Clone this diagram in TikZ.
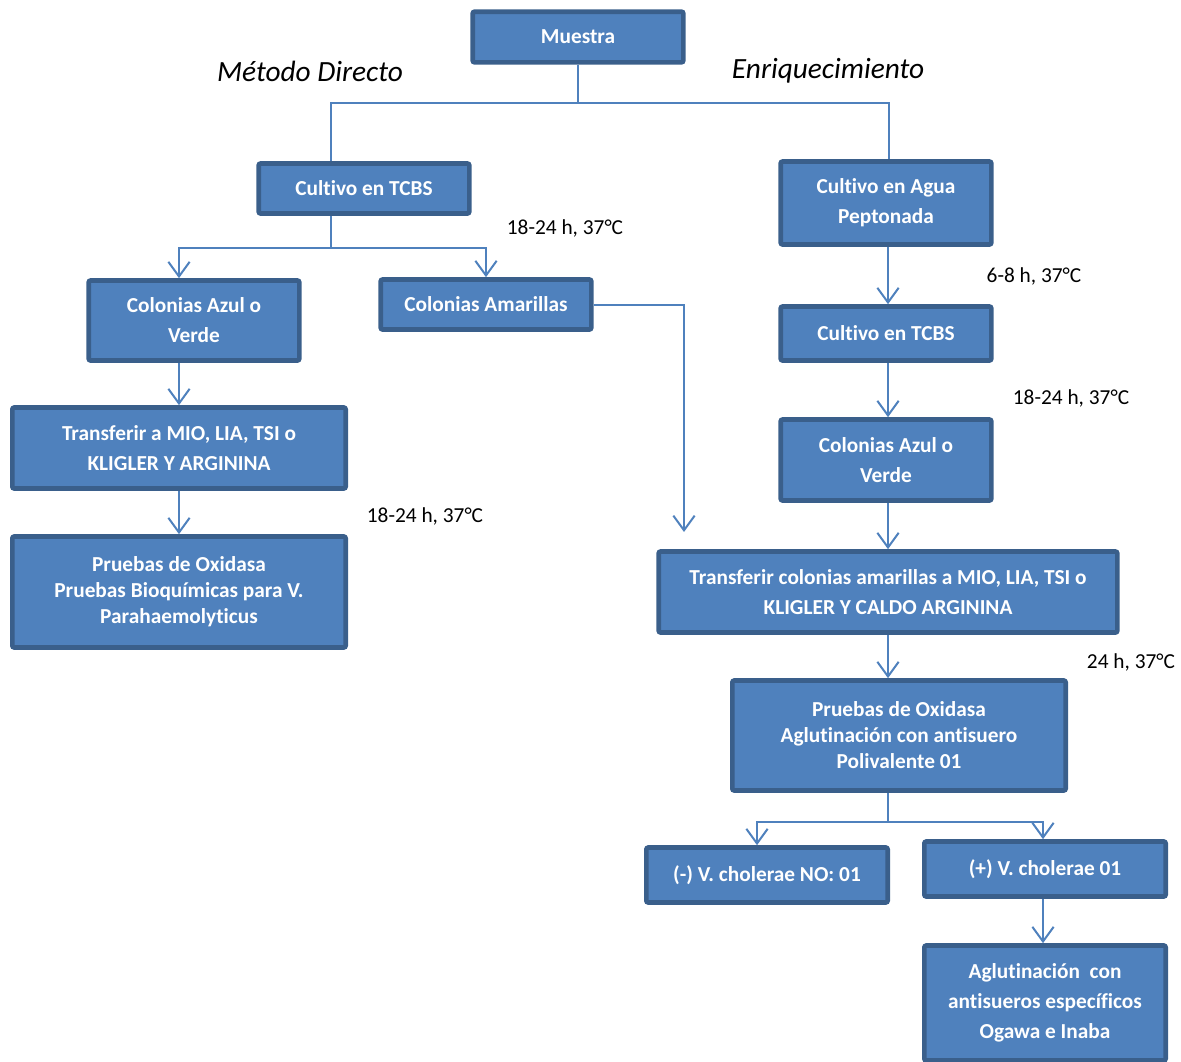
\documentclass[tikz,border=0pt]{standalone}
\usepackage{fontspec}
\setmainfont{Carlito}[Ligatures=NoCommon]
\usetikzlibrary{arrows.meta}
\definecolor{azul}{HTML}{4F81BD}
\definecolor{borde}{HTML}{3A5F8B}

\begin{document}
\begin{tikzpicture}[x=0.75pt,y=-0.75pt]
  \tikzstyle{caja}=[rectangle,draw=borde,fill=azul,line width=3.5pt,rounded corners=1.5pt,
    text=white,font=\bfseries\fontsize{16}{22.5}\selectfont,align=center,inner sep=0pt]
  \tikzstyle{linea}=[draw=azul,line width=1.5pt]
  \tikzstyle{flecha}=[linea,-{Straight Barb[length=11pt,width=16pt,line width=1.5pt]}]
  \tikzstyle{nota}=[font=\fontsize{16}{19}\selectfont]
  \tikzstyle{titulo}=[font=\itshape\fontsize{22}{25}\selectfont]
  \useasboundingbox (0,0) rectangle (1181,1061);
  % metodo directo
  \node(muestra)[caja,minimum width=158pt,minimum height=38pt] at (578,37) {Muestra};
  \node(tcbsA)[caja,minimum width=158pt,minimum height=37.5pt] at (364,188.5) {Cultivo en TCBS};
  \node(azulA)[caja,minimum width=158pt,minimum height=60pt] at (194,320.5) {Colonias Azul o\\Verde};
  \node(amarillas)[caja,minimum width=158pt,minimum height=37.5pt] at (486,304.5) {Colonias Amarillas};
  \node(transA)[caja,minimum width=250pt,minimum height=60.75pt] at (179,448) {Transferir a MIO, LIA, TSI o\\KLIGLER Y ARGININA};
  \node(pruebasA)[caja,minimum width=250pt,minimum height=83.25pt] at (179,592) {Pruebas de Oxidasa\\[-3pt]Pruebas Bioquímicas para V.\\[-3pt]Parahaemolyticus};
  % enriquecimiento
  \node(agua)[caja,minimum width=158pt,minimum height=62.25pt] at (886,203) {Cultivo en Agua\\Peptonada};
  \node(tcbsB)[caja,minimum width=158pt,minimum height=40.5pt] at (886,333.5) {Cultivo en TCBS};
  \node(azulB)[caja,minimum width=158pt,minimum height=60.75pt] at (886,460) {Colonias Azul o\\Verde};
  \node(transB)[caja,minimum width=344pt,minimum height=60.75pt] at (888,592) {Transferir colonias amarillas a MIO, LIA, TSI o\\KLIGLER Y CALDO ARGININA};
  \node(pruebasB)[caja,minimum width=250pt,minimum height=82.5pt] at (899,735.5) {Pruebas de Oxidasa\\[-3pt]Aglutinación con antisuero\\[-3pt]Polivalente 01};
  \node(neg)[caja,minimum width=181pt,minimum height=41.25pt] at (767,875) {(-) V. cholerae NO: 01};
  \node(pos)[caja,minimum width=181pt,minimum height=41.25pt] at (1045,869) {(+) V. cholerae 01};
  \node(aglut)[caja,minimum width=181pt,minimum height=86.25pt] at (1045,1003) {Aglutinación~ con\\antisueros específicos\\Ogawa e Inaba};
  % textos
  \node(metodo)[titulo] at (310,71) {Método Directo};
  \begin{scope}
    \clip (700,50) rectangle (960,82);
    \node(enriq)[titulo] at (828,71) {Enriquecimiento};
  \end{scope}
  \node(t1)[nota] at (565,228) {18-24 h, 37°C};
  \node(t2)[nota] at (1034,276) {6-8 h, 37°C};
  \node(t3)[nota] at (1071,398) {18-24 h, 37°C};
  \node(t4)[nota] at (425,516) {18-24 h, 37°C};
  \node(t5)[nota] at (1131,662) {24 h, 37°C};
  % conectores
  \draw[linea] (muestra.south) -- ++(0,38.5) coordinate(bif1);
  \draw[linea] (bif1) -| ([xshift=-24.75pt]tcbsA.north);
  \draw[linea] (bif1) -| ([xshift=2pt]agua.north);
  \draw[linea] ([xshift=-24.75pt]tcbsA.south) -- ++(0,32.5) coordinate(bif2);
  \draw[flecha] (bif2) -| ([xshift=-11.25pt]azulA.north);
  \draw[flecha] (bif2) -| (amarillas.north);
  \draw[flecha] ([xshift=-11.25pt]azulA.south) -- ([xshift=-11.25pt]azulA.south |- transA.north);
  \draw[flecha] (transA.south) -- (pruebasA.north);
  \coordinate(fin) at (684,532);
  \draw[flecha] (amarillas.east) -| (fin);
  \draw[flecha] ([xshift=1.5pt]agua.south) -- ([xshift=1.5pt]tcbsB.north);
  \draw[flecha] ([xshift=1.5pt]tcbsB.south) -- ([xshift=1.5pt]azulB.north);
  \draw[flecha] ([xshift=1.5pt]azulB.south) -- ([xshift=1.5pt]azulB.south |- transB.north);
  \draw[flecha] (transB.south) -- (transB.south |- pruebasB.north);
  \draw[linea] (transB.south |- pruebasB.south) -- ++(0,29.5) coordinate(bif3);
  \draw[flecha] (bif3) -| ([xshift=-7.5pt]neg.north);
  \draw[flecha] (bif3) -| ([xshift=-1.5pt]pos.north);
  \draw[flecha] ([xshift=-1.5pt]pos.south) -- ([xshift=-1.5pt]aglut.north);
\end{tikzpicture}
\end{document}
